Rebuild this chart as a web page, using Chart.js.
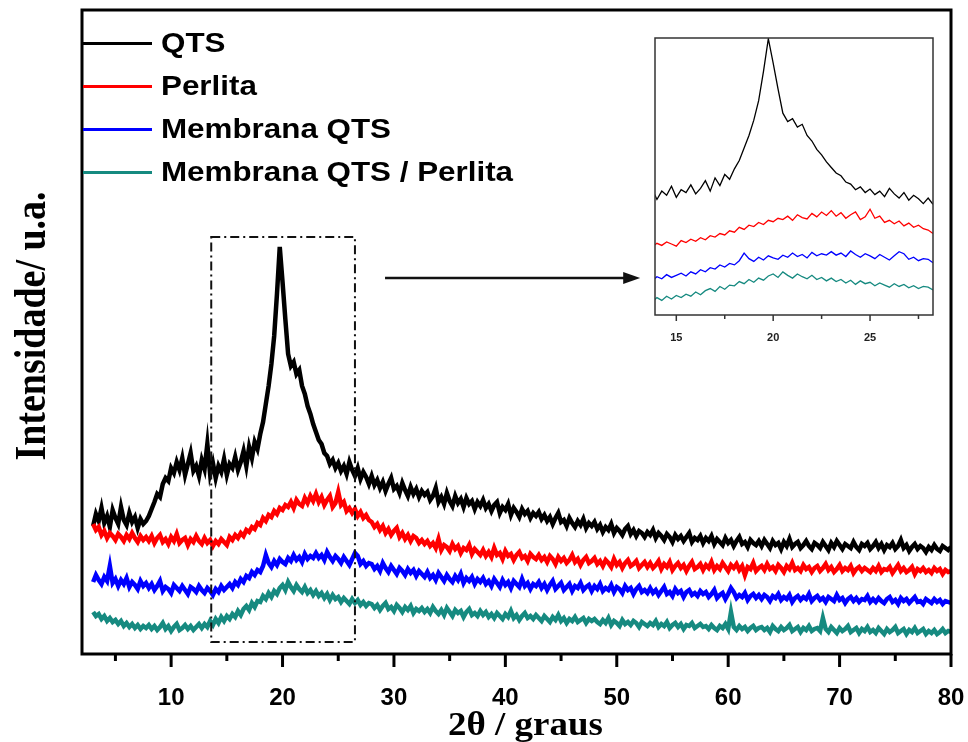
<!DOCTYPE html>
<html>
<head>
<meta charset="utf-8">
<title>DRX</title>
<script src="https://cdn.jsdelivr.net/npm/chart.js@4.4.1/dist/chart.umd.min.js"></script>
<style>
  html, body { margin: 0; padding: 0; background: #fff; }
  #wrap { position: relative; width: 968px; height: 742px; overflow: hidden; }
  #main { position: absolute; left: 0; top: 0; }
  #inset { position: absolute; left: 645px; top: 30px; }
  .legend { position: absolute; left: 83px; top: 0; font: bold 28px "Liberation Sans", Arial, sans-serif; color: #000; }
  .row { position: absolute; left: 0; height: 30px; display: flex; align-items: center; white-space: nowrap; }
  .swatch { width: 69px; height: 3px; margin-right: 9px; }
  .name { display: inline-block; transform: scaleX(1.12); transform-origin: left center; }
</style>
</head>
<body>
<div id="wrap">
  <canvas id="main" width="968" height="742"></canvas>
  <canvas id="inset" width="300" height="320"></canvas>
  <div class="legend" id="legend"></div>
</div>
<script>
// 2theta grid: 3 to 80 degrees, step 0.25
const angleStart = 3;
const angleStep = 0.25;

const seriesNames = ["QTS", "Perlita", "Membrana QTS", "Membrana QTS / Perlita"];
const seriesColors = ["#000000", "#ff0000", "#0000ff", "#168a80"];

// intensities (a.u., offsets as plotted)
const qts = [
  128, 140, 133, 146, 131, 138, 127, 144, 136, 130, 147, 134, 129, 141, 132, 137, 126, 135, 130, 133,
  138, 145, 152, 160, 157, 170, 176, 173, 186, 181, 192, 184, 196, 179, 190, 201, 183, 188, 178, 194,
  185, 210, 180, 191, 176, 188, 182, 195, 179, 190, 186, 197, 184, 192, 203, 188, 207, 196, 212, 205,
  220, 232, 250, 268, 290, 318, 360, 407, 372, 335, 300, 288, 292, 280, 284, 268, 260, 248, 240, 230,
  222, 214, 210, 201, 198, 190, 194, 186, 191, 183, 188, 180, 192, 184, 178, 186, 175, 182, 177, 170,
  178, 169, 174, 166, 172, 163, 170, 176, 165, 168, 161, 171, 164, 158, 167, 160, 165, 157, 163, 159,
  162, 154, 158, 166, 152, 157, 150, 161, 153, 148, 158, 151, 155, 147, 156, 150, 153, 145, 152, 148,
  154, 146, 150, 143, 149, 152, 141, 147, 144, 150, 139, 146, 142, 137, 145, 140, 143, 136, 141, 138,
  142, 135, 139, 133, 137, 130, 136, 141, 132, 134, 128, 136, 131, 127, 133, 129, 135, 126, 131, 128,
  132, 125, 129, 122, 127, 124, 130, 121, 126, 123, 119, 125, 128, 120, 124, 118, 123, 121, 117, 122,
  119, 124, 116, 121, 118, 114, 120, 117, 112, 119, 115, 118, 113, 117, 121, 112, 116, 114, 118, 111,
  116, 113, 118, 110, 115, 112, 109, 116, 111, 114, 108, 113, 117, 110, 112, 107, 114, 111, 109, 113,
  108, 114, 110, 106, 113, 109, 111, 105, 112, 108, 115, 107, 110, 112, 106, 109, 113, 108, 105, 111,
  109, 106, 112, 108, 104, 111, 107, 113, 109, 105, 110, 108, 106, 112, 107, 104, 110, 108, 111, 105,
  108, 112, 106, 110, 104, 109, 107, 111, 105, 108, 114, 106, 109, 103, 107, 110, 105, 108, 106, 102,
  107, 104, 109, 105, 103, 108, 106, 104, 107
];

const perlita = [
  130, 124, 127, 119, 123, 116, 121, 118, 114, 120, 117, 113, 119, 115, 121, 116, 112, 118, 114, 117,
  113, 118, 111, 116, 119, 112, 115, 110, 117, 113, 120, 111, 114, 116, 109, 115, 112, 118, 113, 110,
  116, 111, 114, 108, 113, 110, 115, 112, 109, 117, 114, 119, 116, 121, 118, 124, 122, 127, 125, 131,
  129, 136, 133, 139, 137, 143, 140, 146, 144, 149, 147, 152, 146, 154, 150, 148, 156, 151, 158, 153,
  160, 152, 157, 149, 154, 158, 147, 151, 162, 149, 152, 143, 146, 141, 145, 138, 142, 136, 139, 134,
  132, 127, 130, 124, 128, 121, 125, 119, 123, 126, 117, 121, 115, 119, 113, 118, 116, 111, 114, 110,
  113, 108, 111, 106, 115, 104, 109, 107, 103, 110, 105, 108, 101, 106, 104, 109, 100, 105, 102, 99,
  104, 98, 102, 97, 106, 99, 101, 95, 103, 98, 100, 94, 99, 102, 96, 98, 93, 100, 97, 95,
  99, 94, 97, 92, 98, 95, 90, 97, 93, 96, 91, 94, 99, 92, 95, 89, 94, 97, 91, 93,
  96, 90, 93, 88, 94, 91, 87, 95, 89, 92, 86, 91, 94, 88, 90, 93, 86, 89, 92, 87,
  91, 86, 89, 93, 85, 90, 87, 92, 84, 88, 91, 86, 89, 83, 88, 92, 85, 87, 90, 84,
  89, 86, 92, 84, 88, 85, 91, 87, 83, 89, 86, 90, 84, 88, 79, 87, 85, 91, 83, 86,
  88, 84, 90, 85, 87, 83, 89, 86, 82, 88, 85, 91, 84, 86, 83, 89, 85, 87, 82, 86,
  88, 83, 86, 90, 84, 87, 82, 85, 89, 83, 86, 84, 88, 81, 85, 87, 83, 86, 84, 82,
  86, 83, 88, 82, 85, 84, 87, 81, 85, 89, 83, 86, 82, 84, 87, 80, 85, 83, 86, 82,
  84, 81, 86, 83, 85, 80, 84, 82, 83
];

const membranaQts = [
  72, 79, 74, 70, 77, 73, 88, 71, 75, 68, 74, 70, 76, 67, 72, 69, 65, 73, 68, 71,
  66, 70, 64, 68, 73, 63, 67, 65, 61, 69, 66, 63, 68, 64, 60, 67, 65, 62, 68, 64,
  61, 66, 63, 59, 65, 62, 68, 64, 67, 70, 66, 72, 69, 75, 72, 78, 76, 82, 79, 84,
  82, 88, 99, 91, 87, 93, 89, 95, 92, 90, 96, 93, 99, 94, 97, 92, 100, 95, 98, 96,
  101, 96, 99, 94, 102, 97, 93, 98, 95, 91, 97, 93, 89, 95, 101, 98, 90, 93, 88, 91,
  90, 85, 88, 83, 91, 86, 82, 88, 84, 80, 86, 83, 79, 85, 81, 84, 78, 83, 80, 77,
  82, 76, 79, 74, 81, 77, 73, 79, 75, 72, 78, 74, 80, 71, 76, 73, 77, 70, 75, 72,
  76, 70, 73, 68, 75, 71, 67, 74, 69, 72, 66, 73, 70, 67, 75, 68, 71, 65, 70, 68,
  72, 66, 70, 64, 69, 73, 65, 68, 71, 64, 67, 70, 63, 68, 66, 71, 64, 67, 69, 63,
  68, 65, 70, 63, 66, 64, 69, 62, 67, 65, 61, 68, 64, 66, 60, 65, 68, 62, 64, 61,
  66, 61, 64, 59, 63, 67, 60, 62, 58, 65, 61, 63, 57, 62, 64, 59, 61, 58, 63, 60,
  62, 57, 60, 64, 56, 59, 61, 55, 60, 66, 62, 56, 59, 57, 61, 54, 58, 60, 56, 59,
  55, 59, 57, 53, 58, 56, 60, 54, 57, 55, 59, 52, 56, 58, 54, 57, 55, 60, 53, 56,
  58, 54, 56, 52, 57, 55, 53, 59, 54, 56, 51, 55, 57, 53, 56, 52, 55, 54, 58, 52,
  55, 52, 56, 53, 51, 55, 57, 52, 54, 50, 56, 53, 55, 51, 54, 57, 52, 53, 50, 55,
  53, 51, 55, 52, 54, 50, 53, 52, 51
];

const membranaPerlita = [
  42, 38, 40, 35, 38, 33, 36, 32, 34, 30, 33, 28, 31, 27, 30, 26, 29, 25, 28, 26,
  29, 25, 28, 24, 27, 31, 25, 28, 23, 27, 30, 24, 26, 29, 25, 28, 24, 27, 30, 26,
  30, 27, 33, 29, 35, 31, 37, 33, 38, 35, 40, 37, 43, 39, 45, 48, 44, 51, 47, 53,
  52, 58, 55, 61, 57, 63, 60, 66, 69, 64, 72, 67, 63, 69, 65, 62, 67, 61, 64, 59,
  63, 58, 61, 56, 60, 54, 59, 55, 57, 52, 56, 53, 50, 55, 51, 54, 49, 52, 48, 51,
  50, 46, 49, 44, 48, 51, 45, 47, 43, 49, 46, 42, 47, 44, 48, 41, 45, 43, 46, 42,
  45, 41, 47, 43, 40, 44, 39, 46, 42, 38, 44, 41, 43, 37, 42, 45, 39, 41, 38, 43,
  39, 42, 37, 40, 36, 41, 38, 35, 40, 37, 43, 36, 39, 34, 38, 41, 36, 38, 35, 39,
  36, 33, 38, 35, 32, 37, 34, 39, 33, 36, 31, 35, 33, 37, 32, 34, 36, 31, 35, 33,
  35, 32, 30, 34, 31, 36, 29, 33, 31, 28, 34, 30, 32, 29, 33, 31, 27, 32, 30, 28,
  31, 29, 33, 27, 30, 28, 32, 26, 29, 31, 27, 30, 25, 29, 28, 31, 26, 28, 30, 27,
  28, 25, 29, 26, 24, 28, 26, 30, 25, 42, 27, 24, 28, 25, 27, 23, 26, 28, 24, 26,
  27, 24, 26, 22, 28, 25, 23, 27, 24, 26, 29, 23, 25, 27, 22, 26, 24, 28, 23, 25,
  26, 23, 36, 25, 22, 27, 24, 21, 26, 23, 25, 28, 22, 24, 26, 21, 25, 23, 27, 22,
  24, 21, 26, 23, 20, 25, 22, 24, 27, 21, 23, 25, 20, 24, 22, 26, 21, 23, 25, 20,
  23, 21, 24, 20, 22, 25, 21, 23, 22
];

const allSeries = [qts, perlita, membranaQts, membranaPerlita];
const angles = qts.map((_, i) => angleStart + i * angleStep);

// axis ticks and titles
const mainTicks = [5, 10, 15, 20, 25, 30, 35, 40, 45, 50, 55, 60, 65, 70, 75, 80];
const insetTicks = [15, 17.5, 20, 22.5, 25, 27.5];
const xTitle = "2θ / graus";
const yTitle = "Intensidade/ u.a.";

// zoomed window marked on the main plot, and the arrow to the inset
const zoomWindow = [13.6, 26.5];
const zoomLevels = [12, 417];
const arrowSpan = [29.2, 52.1];
const arrowLevel = 376;

function makeDatasets(width) {
  return allSeries.map((vals, k) => ({
    label: seriesNames[k],
    data: vals.map((v, i) => ({ x: angles[i], y: v })),
    borderColor: seriesColors[k],
    borderWidth: width,
    pointRadius: 0,
    tension: 0,
    order: allSeries.length - k
  }));
}

// box frame + outward tick marks
const frameTicks = {
  id: "frameTicks",
  afterDatasetsDraw(chart, args, opts) {
    const { ctx, chartArea: a, scales: { x } } = chart;
    ctx.save();
    ctx.strokeStyle = opts.color;
    ctx.lineWidth = opts.width;
    ctx.strokeRect(a.left, a.top, a.right - a.left, a.bottom - a.top);
    ctx.lineWidth = opts.tickWidth;
    x.ticks.forEach(t => {
      const px = x.getPixelForValue(t.value);
      const len = t.value % opts.major === 0 ? opts.majorLen : opts.minorLen;
      ctx.beginPath();
      ctx.moveTo(px, a.bottom);
      ctx.lineTo(px, a.bottom + len);
      ctx.stroke();
    });
    ctx.restore();
  }
};

// dash-dot box around the zoomed region and the arrow
const zoomMarks = {
  id: "zoomMarks",
  afterDatasetsDraw(chart) {
    const { ctx, scales: { x, y } } = chart;
    const x0 = x.getPixelForValue(zoomWindow[0]);
    const x1 = x.getPixelForValue(zoomWindow[1]);
    const y0 = y.getPixelForValue(zoomLevels[1]);
    const y1 = y.getPixelForValue(zoomLevels[0]);
    ctx.save();
    ctx.strokeStyle = "#111";
    ctx.fillStyle = "#111";
    ctx.lineWidth = 2;
    ctx.setLineDash([9, 4, 2, 4]);
    ctx.strokeRect(x0, y0, x1 - x0, y1 - y0);
    ctx.setLineDash([]);
    const ax0 = x.getPixelForValue(arrowSpan[0]);
    const ax1 = x.getPixelForValue(arrowSpan[1]);
    const ay = y.getPixelForValue(arrowLevel);
    ctx.lineWidth = 2.5;
    ctx.beginPath();
    ctx.moveTo(ax0, ay);
    ctx.lineTo(ax1 - 12, ay);
    ctx.stroke();
    ctx.beginPath();
    ctx.moveTo(ax1, ay);
    ctx.lineTo(ax1 - 17, ay - 6);
    ctx.lineTo(ax1 - 17, ay + 6);
    ctx.closePath();
    ctx.fill();
    ctx.restore();
  }
};

// axis titles (bold serif, slightly widened like the original figure)
const axisTitles = {
  id: "axisTitles",
  afterDraw(chart) {
    const { ctx, chartArea: a } = chart;
    ctx.save();
    ctx.fillStyle = "#000";
    ctx.textAlign = "center";
    ctx.textBaseline = "alphabetic";
    ctx.font = "bold 33px 'Liberation Serif', 'Times New Roman', serif";
    ctx.save();
    ctx.translate((a.left + a.right) / 2 + 9, 735);
    ctx.scale(1.12, 1);
    ctx.fillText(xTitle, 0, 0);
    ctx.restore();
    ctx.font = "bold 38px 'Liberation Serif', 'Times New Roman', serif";
    ctx.translate(45, (a.top + a.bottom) / 2 - 6);
    ctx.rotate(-Math.PI / 2);
    ctx.scale(1, 1.15);
    ctx.fillText(yTitle, 0, 0);
    ctx.restore();
  }
};

new Chart(document.getElementById("main"), {
  type: "line",
  data: { datasets: makeDatasets(4.5) },
  plugins: [frameTicks, zoomMarks, axisTitles],
  options: {
    responsive: false,
    animation: false,
    layout: { padding: { top: 10, right: 17, left: 82, bottom: 0 } },
    plugins: {
      legend: { display: false },
      tooltip: { enabled: false },
      frameTicks: { color: "#000", width: 3, tickWidth: 3, major: 10, majorLen: 13, minorLen: 7 }
    },
    scales: {
      x: {
        type: "linear",
        min: 2,
        max: 80,
        afterBuildTicks: s => { s.ticks = mainTicks.map(v => ({ value: v })); },
        afterFit: s => { s.height = 88; s.paddingLeft = 0; s.paddingRight = 0; },
        grid: { display: false },
        border: { display: false },
        ticks: {
          padding: 22,
          color: "#000",
          font: { family: "'Liberation Sans', Arial, sans-serif", size: 24, weight: "bold" },
          callback: v => (v % 10 === 0 ? v : "")
        }
      },
      y: { display: false, min: 0, max: 644 }
    }
  }
});

new Chart(document.getElementById("inset"), {
  type: "line",
  data: { datasets: makeDatasets(1.3) },
  plugins: [frameTicks],
  options: {
    responsive: false,
    animation: false,
    layout: { padding: { top: 8, right: 12, left: 10, bottom: 0 } },
    plugins: {
      legend: { display: false },
      tooltip: { enabled: false },
      frameTicks: { color: "#333", width: 1.5, tickWidth: 1.5, major: 5, majorLen: 6, minorLen: 4 }
    },
    scales: {
      x: {
        type: "linear",
        min: 13.9,
        max: 28.25,
        afterBuildTicks: s => { s.ticks = insetTicks.map(v => ({ value: v })); },
        afterFit: s => { s.height = 35; s.paddingLeft = 0; s.paddingRight = 0; },
        grid: { display: false },
        border: { display: false },
        ticks: {
          padding: 8,
          color: "#222",
          font: { family: "'Liberation Sans', Arial, sans-serif", size: 11, weight: "bold" },
          callback: v => (v % 5 === 0 ? v : "")
        }
      },
      y: { display: false, min: 10, max: 408 }
    }
  }
});

// legend
const legend = document.getElementById("legend");
const legendCenters = [43, 86, 129, 172];
seriesNames.forEach((name, k) => {
  const row = document.createElement("div");
  row.className = "row";
  row.style.top = (legendCenters[k] - 15) + "px";
  const sw = document.createElement("span");
  sw.className = "swatch";
  sw.style.background = seriesColors[k];
  const txt = document.createElement("span");
  txt.className = "name";
  txt.textContent = name;
  row.appendChild(sw);
  row.appendChild(txt);
  legend.appendChild(row);
});
</script>
</body>
</html>
